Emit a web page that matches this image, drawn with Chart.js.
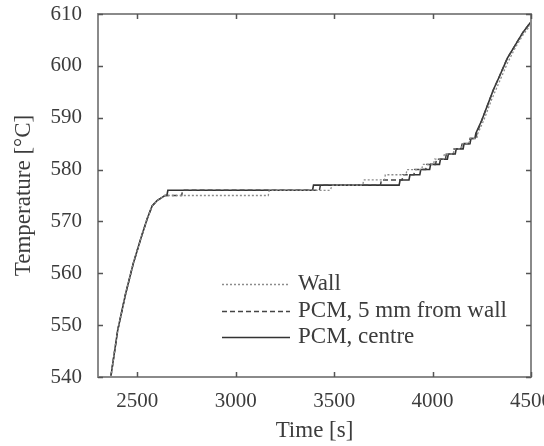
<!DOCTYPE html>
<html>
<head>
<meta charset="utf-8">
<script src="https://cdn.jsdelivr.net/npm/chart.js@4/dist/chart.umd.min.js"></script>
<style>
html,body{margin:0;padding:0;background:#fff;}
#wrap{width:544px;height:446px;position:relative;}
</style>
</head>
<body>
<div id="wrap"><canvas id="c" width="544" height="446"></canvas></div>
<script>
// ---- data ----
const seriesLabels = ['Wall', 'PCM, 5 mm from wall', 'PCM, centre'];

const wallTime = [2365,2400,2440,2480,2520,2550,2575,2600,2620,2640,3165,3170,3480,3490,3645,3650,3755,3760,3865,3870,3945,3950,4005,4010,4055,4060,4105,4110,4145,4150,4185,4190,4225,4230,4260,4300,4340,4380,4420,4460,4500];
const wallTemp = [540,549,556,562,567,570.5,573,574,574.5,575,575,576,576,577,577,578,578,579,579,580,580,581,581,582,582,583,583,584,584,585,585,586,586,587,589.5,593.5,597,600.5,603.5,606,608];

const pcm5Time = [2365,2400,2440,2480,2520,2550,2575,2600,2620,2640,2725,2730,3425,3430,3735,3740,3845,3850,3905,3910,3965,3970,4015,4020,4065,4070,4105,4110,4145,4150,4185,4190,4220,4225,4250,4280,4310,4340,4380,4420,4460,4500];
const pcm5Temp = [540,549,556,562,567,570.5,573,574,574.5,575,575,576,576,577,577,578,578,579,579,580,580,581,581,582,582,583,583,584,584,585,585,586,586,587,589.5,592.5,595.5,598,601.5,604,606.5,608.5];

const centreTime = [2365,2400,2440,2480,2520,2550,2575,2600,2620,2640,2650,2655,3390,3395,3830,3835,3880,3885,3935,3940,3985,3990,4035,4040,4075,4080,4115,4120,4155,4160,4190,4195,4215,4220,4250,4280,4310,4340,4380,4420,4460,4500];
const centreTemp = [540,549,556,562,567,570.5,573,574,574.5,575,575,576,576,577,577,578,578,579,579,580,580,581,581,582,582,583,583,584,584,585,585,586,586,587,589.5,592.5,595.5,598,601.5,604,606.5,608.5];

const xTicks = [2500,3000,3500,4000,4500];
const yTicks = [540,550,560,570,580,590,600,610];

function pts(t, v){ return t.map((x,i)=>({x:x, y:v[i]})); }

const FONT = "'Liberation Serif', 'DejaVu Serif', serif";
const TXT = '#3c3c3c';

const frame = {
  id: 'frame',
  afterDraw(chart){
    const ctx = chart.ctx, a = chart.chartArea;
    const xs = chart.scales.x, ys = chart.scales.y;
    ctx.save();
    ctx.strokeStyle = '#8a8a8a';
    ctx.lineWidth = 2;
    ctx.strokeRect(a.left, a.top, a.right - a.left, a.bottom - a.top);
    ctx.lineWidth = 1.5;
    ctx.strokeStyle = '#555';
    const L = 5;
    xTicks.forEach(v=>{
      const px = Math.round(xs.getPixelForValue(v)) + 0.5;
      ctx.beginPath();
      ctx.moveTo(px, a.bottom); ctx.lineTo(px, a.bottom - L);
      ctx.moveTo(px, a.top); ctx.lineTo(px, a.top + L);
      ctx.stroke();
    });
    yTicks.forEach(v=>{
      const py = Math.round(ys.getPixelForValue(v)) + 0.5;
      ctx.beginPath();
      ctx.moveTo(a.left, py); ctx.lineTo(a.left + L, py);
      ctx.moveTo(a.right, py); ctx.lineTo(a.right - L, py);
      ctx.stroke();
    });
    // legend
    const rows = [284, 311, 337];
    ctx.font = '23px ' + FONT;
    ctx.textBaseline = 'middle';
    ctx.textAlign = 'left';
    chart.data.datasets.forEach((ds, i)=>{
      const y = rows[i] + 0.5;
      ctx.save();
      ctx.strokeStyle = ds.borderColor;
      ctx.lineWidth = ds.borderWidth;
      ctx.setLineDash(ds.borderDash || []);
      ctx.beginPath();
      ctx.moveTo(222, y); ctx.lineTo(290, y);
      ctx.stroke();
      ctx.restore();
      ctx.fillStyle = TXT;
      ctx.fillText(ds.label, 298, rows[i]);
    });
    ctx.restore();
  }
};

new Chart(document.getElementById('c'), {
  type: 'line',
  data: {
    datasets: [
      { label: seriesLabels[0], data: pts(wallTime, wallTemp), borderColor: '#8c8c8c', borderWidth: 1.3, borderDash: [2,2] },
      { label: seriesLabels[1], data: pts(pcm5Time, pcm5Temp), borderColor: '#444', borderWidth: 1.5, borderDash: [5,3] },
      { label: seriesLabels[2], data: pts(centreTime, centreTemp), borderColor: '#333', borderWidth: 1.6 }
    ]
  },
  options: {
    responsive: false,
    animation: false,
    devicePixelRatio: 1,
    elements: { point: { radius: 0 }, line: { tension: 0 } },
    layout: { autoPadding: false, padding: { top: 14, right: 13, left: 0, bottom: 0 } },
    plugins: { legend: { display: false }, tooltip: { enabled: false } },
    scales: {
      x: {
        type: 'linear', min: 2300, max: 4500,
        afterFit: s => { s.height = 69; s.paddingLeft = 0; s.paddingRight = 0; },
        afterBuildTicks: s => { s.ticks = xTicks.map(v=>({value:v})); },
        grid: { display: false, drawTicks: false },
        border: { display: false },
        ticks: { padding: 12, color: TXT, font: { family: FONT, size: 21 }, maxRotation: 0, callback: v => String(v) },
        title: { display: true, text: 'Time [s]', color: TXT, font: { family: FONT, size: 23 }, padding: { top: 0, bottom: 1 } }
      },
      y: {
        type: 'linear', min: 540, max: 610,
        afterFit: s => { s.width = 98; s.paddingTop = 0; s.paddingBottom = 0; },
        afterBuildTicks: s => { s.ticks = yTicks.map(v=>({value:v})); },
        grid: { display: false, drawTicks: false },
        border: { display: false },
        ticks: { padding: 16, color: TXT, font: { family: FONT, size: 21 }, callback: v => String(v) },
        title: { display: true, text: 'Temperature [°C]', color: TXT, font: { family: FONT, size: 23 }, padding: { top: 10, bottom: 0 } }
      }
    }
  },
  plugins: [frame]
});
</script>
</body>
</html>
